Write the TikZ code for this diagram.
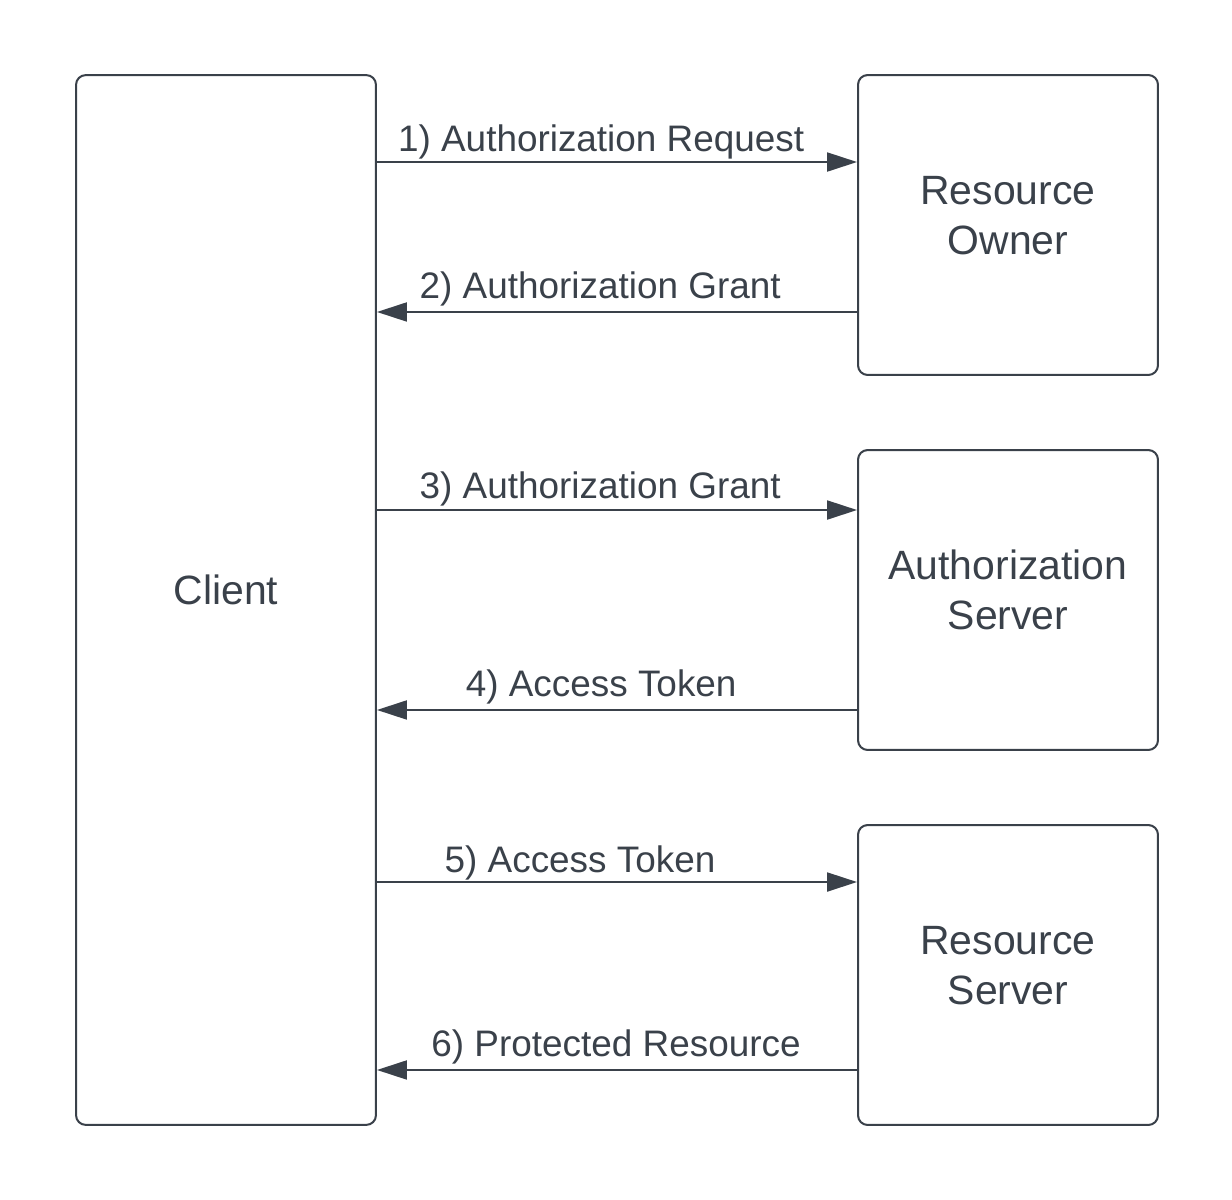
\documentclass[tikz,border=0pt]{standalone}
\usepackage{fontspec}
\setmainfont{Liberation Sans}
\usepackage{xcolor}
\usepackage{tikz}
\usetikzlibrary{arrows.meta, positioning}
\definecolor{inkgray}{HTML}{3A414A}

\begin{document}
\begin{tikzpicture}[x=0.02cm, y=-0.02cm,
    party/.style={rectangle, rounded corners=5.5pt, draw=inkgray, line width=1.15pt, minimum width=6cm, align=center, text depth=11.3pt, text=inkgray, font=\fontsize{23.3}{28.4}\selectfont},
    msg/.style={-{Triangle[length=17pt, width=10.8pt]}, draw=inkgray, line width=1.1pt},
    lbl/.style={anchor=base, text=inkgray, font=\fontsize{21}{25}\selectfont, inner sep=0pt}
]
\useasboundingbox (0,0) rectangle (1232,1200);

\node[party, minimum height=21cm] (client) at (226,600) {Client};
\node[party, minimum height=6cm] (owner) at (1008,225) {Resource\\Owner};
\node[party, minimum height=6cm] (authsrv) at (1008,600) {Authorization\\Server};
\node[party, minimum height=6cm] (ressrv) at (1008,975) {Resource\\Server};

\coordinate (m1) at ([yshift=1.26cm]owner.west);
\coordinate (m2) at ([yshift=-1.74cm]owner.west);
\coordinate (m3) at ([yshift=1.8cm]authsrv.west);
\coordinate (m4) at ([yshift=-2.2cm]authsrv.west);
\coordinate (m5) at ([yshift=1.86cm]ressrv.west);
\coordinate (m6) at ([yshift=-1.9cm]ressrv.west);

\draw[msg] (client.east |- m1) -- (m1) node[lbl, pos=0.467, yshift=5.7pt] {1) Authorization Request};
\draw[msg] (m2) -- (client.east |- m2) node[lbl, pos=0.535, yshift=7.9pt] {2) Authorization Grant};
\draw[msg] (client.east |- m3) -- (m3) node[lbl, pos=0.465, yshift=6.8pt] {3) Authorization Grant};
\draw[msg] (m4) -- (client.east |- m4) node[lbl, pos=0.533, yshift=7.9pt] {4) Access Token};
\draw[msg] (client.east |- m5) -- (m5) node[lbl, pos=0.423, yshift=5.3pt] {5) Access Token};
\draw[msg] (m6) -- (client.east |- m6) node[lbl, pos=0.502, yshift=7.4pt] {6) Protected Resource};

\end{tikzpicture}
\end{document}
